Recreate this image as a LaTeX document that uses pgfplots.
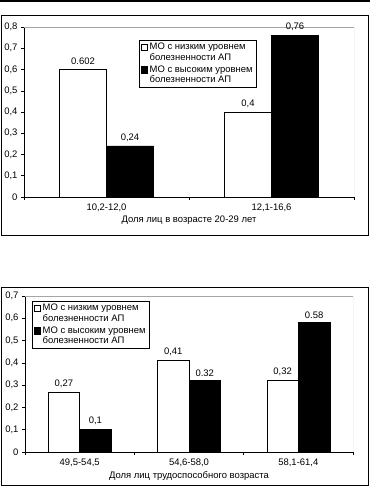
\documentclass[border=0pt]{standalone}
\usepackage{fontspec}
\setmainfont{Liberation Sans}
\usepackage{pgfplots}
\usepackage{pgfplotstable}
\pgfplotsset{compat=1.18}

\pgfplotstableread{
x y lbl
0 0.602 0.602
1 0.4 0,4
}\topLow
\pgfplotstableread{
x y lbl
0 0.24 0,24
1 0.76 0,76
}\topHigh
\pgfplotstableread{
x y lbl
0 0.27 0,27
1 0.41 0,41
2 0.32 0,32
}\botLow
\pgfplotstableread{
x y lbl
0 0.10 0,1
1 0.32 0.32
2 0.58 0.58
}\botHigh

\newcommand{\chfont}{\fontsize{9.5}{10.5}\selectfont}

\pgfplotsset{
  mystyle/.style={
    scale only axis,
    axis lines*=left,
    ymin=0, ytick distance=0.1,
    tick align=outside,
    major tick length=3bp,
    tick style={black, line width=0.5bp},
    axis line style={black, line width=0.6bp},
    yticklabel style={/pgf/number format/.cd, fixed, precision=1, use comma, assume math mode=true},
    tick label style={font=\chfont},
    label style={font=\chfont},
    ybar=0pt,
    x tick label as interval,
    nodes near coords,
    point meta=explicit symbolic,
    nodes near coords style={font=\chfont, anchor=south, yshift=1bp},
    legend image code/.code={\draw[##1, line width=0.5bp] (0bp,1.8bp) rectangle (6.6bp,8.4bp);},
    legend style={draw=black, line width=0.5bp, font=\chfont, cells={align=left, anchor=west},
      inner xsep=1.5bp, inner ysep=1bp, row sep=0bp},
    legend cell align=left,
  }
}

\begin{document}
\begin{tikzpicture}
\useasboundingbox (0,0) rectangle (370bp,487bp);
\fill[black] (0,484.5bp) rectangle (370bp,487bp);
\draw[line width=0.8bp] (1.5bp,472bp) rectangle (368bp,252bp);
\draw[line width=0.8bp] (1.5bp,200bp) rectangle (368bp,2bp);

\begin{axis}[mystyle,
  at={(24bp,290bp)}, anchor=south west,
  width=330bp, height=170bp,
  xmin=-0.5, xmax=1.5, ymax=0.8,
  bar width=47bp,
  xtick={-0.5,0.5,1.5},
  xticklabels={{10,2-12,0},{12,1-16,6}},
  xlabel={Доля лиц в возрасте 20-29 лет},
  xlabel style={yshift=2bp},
  legend style={at={(0.348,0.924)}, anchor=north west},
]
\addplot[draw=black, fill=white, line width=0.5bp] table[x=x, y=y, meta=lbl] {\topLow};
\addlegendentry{МО с низким уровнем\\болезненности АП}
\addplot[draw=black, fill=black, line width=0.5bp] table[x=x, y=y, meta=lbl] {\topHigh};
\addlegendentry{МО с высоким уровнем\\болезненности АП}
\draw[gray!70, line width=0.6bp] (rel axis cs:0,1) -- (rel axis cs:1,1) -- (rel axis cs:1,0);
\end{axis}

\begin{axis}[mystyle,
  at={(25bp,35bp)}, anchor=south west,
  width=328bp, height=156bp,
  xmin=-0.5, xmax=2.5, ymax=0.7,
  bar width=31.5bp,
  xtick={-0.5,0.5,1.5,2.5},
  xticklabels={{49,5-54,5},{54,6-58,0},{58,1-61,4}},
  xlabel={Доля лиц трудоспособного возраста},
  xlabel style={yshift=2bp},
  legend style={at={(0.021,0.968)}, anchor=north west},
]
\addplot[draw=black, fill=white, line width=0.5bp] table[x=x, y=y, meta=lbl] {\botLow};
\addlegendentry{МО с низким уровнем\\болезненности АП}
\addplot[draw=black, fill=black, line width=0.5bp] table[x=x, y=y, meta=lbl] {\botHigh};
\addlegendentry{МО с высоким уровнем\\болезненности АП}
\draw[gray!70, line width=0.6bp] (rel axis cs:0,1) -- (rel axis cs:1,1) -- (rel axis cs:1,0);
\end{axis}
\end{tikzpicture}
\end{document}
